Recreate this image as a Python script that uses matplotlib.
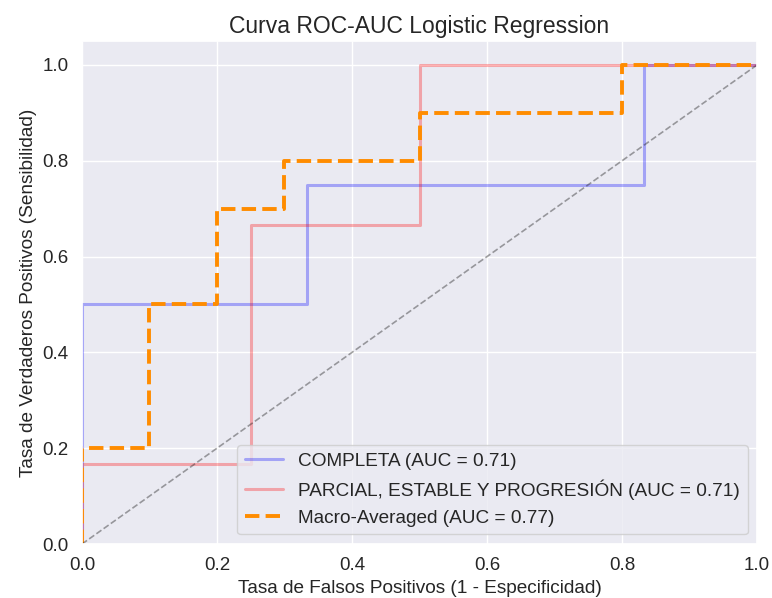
import matplotlib
matplotlib.use("Agg")
import matplotlib.pyplot as plt
import seaborn as sns

# ROC points per class (one-vs-rest) and macro average
fpr_completa = [0.0, 0.0, 0.3333, 0.3333, 0.8333, 0.8333, 1.0]
tpr_completa = [0.0, 0.5, 0.5, 0.75, 0.75, 1.0, 1.0]
auc_completa = 0.71

fpr_parcial = [0.0, 0.0, 0.25, 0.25, 0.5, 0.5, 1.0]
tpr_parcial = [0.0, 0.1667, 0.1667, 0.6667, 0.6667, 1.0, 1.0]
auc_parcial = 0.71

fpr_macro = [0.0, 0.0, 0.1, 0.1, 0.2, 0.2, 0.3, 0.3, 0.5, 0.5, 0.8, 0.8, 1.0]
tpr_macro = [0.0, 0.2, 0.2, 0.5, 0.5, 0.7, 0.7, 0.8, 0.8, 0.9, 0.9, 1.0, 1.0]
auc_macro = 0.77

sns.set_theme(style="darkgrid")
plt.rcParams['font.family'] = ['Liberation Sans', 'DejaVu Sans']

fig, ax = plt.subplots(figsize=(7.72, 5.98), dpi=100)
fig.subplots_adjust(left=0.1062, right=0.9806, top=0.9314, bottom=0.0903)

ax.plot(fpr_completa, tpr_completa, color="blue", alpha=0.3, lw=2.2,
        label=f"COMPLETA (AUC = {auc_completa:.2f})")
ax.plot(fpr_parcial, tpr_parcial, color="red", alpha=0.3, lw=2.2,
        label=f"PARCIAL, ESTABLE Y PROGRESIÓN (AUC = {auc_parcial:.2f})")
ax.plot(fpr_macro, tpr_macro, color="darkorange", ls="--", lw=2.8,
        label=f"Macro-Averaged (AUC = {auc_macro:.2f})")
ax.plot([0, 1], [0, 1], "k--", alpha=0.4, lw=1.2)

ax.set_xlim(0.0, 1.0)
ax.set_ylim(0.0, 1.05)
ax.tick_params(labelsize=13.5)
ax.set_xlabel("Tasa de Falsos Positivos (1 - Especificidad)", fontsize=13.7)
ax.set_ylabel("Tasa de Verdaderos Positivos (Sensibilidad)", fontsize=13.7)
ax.set_title("Curva ROC-AUC Logistic Regression", fontsize=16.5)
ax.legend(loc="lower right", fontsize=13.7)

fig.savefig("out.png", dpi=100)
